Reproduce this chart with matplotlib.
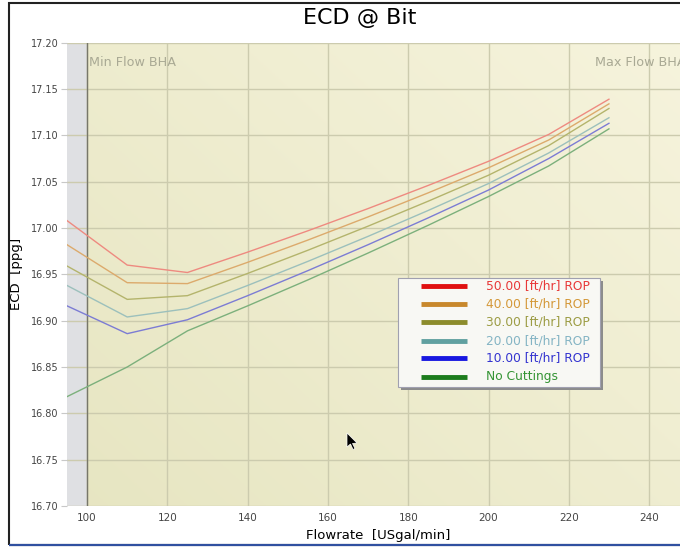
import numpy as np
import matplotlib
matplotlib.use("Agg")
import matplotlib.pyplot as plt
from matplotlib.patches import Rectangle, Polygon

# flowrate points [USgal/min]
flow = [95, 110, 125, 140, 155, 170, 185, 200, 215, 230]

# ECD [ppg] per ROP case
ecd_50 = [17.008, 16.960, 16.952, 16.974, 16.997, 17.021, 17.046, 17.072, 17.101, 17.139]
ecd_40 = [16.982, 16.941, 16.940, 16.963, 16.987, 17.012, 17.038, 17.065, 17.095, 17.134]
ecd_30 = [16.959, 16.923, 16.927, 16.951, 16.976, 17.002, 17.029, 17.057, 17.089, 17.129]
ecd_20 = [16.938, 16.904, 16.913, 16.938, 16.964, 16.991, 17.019, 17.048, 17.081, 17.119]
ecd_10 = [16.916, 16.886, 16.901, 16.927, 16.954, 16.982, 17.011, 17.041, 17.075, 17.113]
ecd_0 = [16.818, 16.850, 16.889, 16.916, 16.944, 16.973, 17.003, 17.034, 17.067, 17.107]

labels = ["50.00 [ft/hr] ROP", "40.00 [ft/hr] ROP", "30.00 [ft/hr] ROP",
          "20.00 [ft/hr] ROP", "10.00 [ft/hr] ROP", "No Cuttings"]
x_ticks = [100, 120, 140, 160, 180, 200, 220, 240]
y_ticks = [16.70, 16.75, 16.80, 16.85, 16.90, 16.95, 17.00, 17.05, 17.10, 17.15, 17.20]
min_flow = 100

series = [ecd_50, ecd_40, ecd_30, ecd_20, ecd_10, ecd_0]
line_colors = ["#ee8a80", "#dcaa6c", "#b4b46c", "#9cc0bc", "#7c7cd4", "#7cb07c"]
key_colors = ["#e01010", "#c8882c", "#8c8c2c", "#60a0a0", "#1818e0", "#1c7c1c"]
text_colors = ["#e83838", "#d49838", "#9c9c44", "#84b4c4", "#3434d0", "#349434"]

W, H = 680, 548
fig = plt.figure(figsize=(W / 100, H / 100), dpi=100)
ax_l, ax_t, ax_b = 67, 42.7, 506
ax = fig.add_axes([ax_l / W, 1 - ax_b / H, 1 - ax_l / W, (ax_b - ax_t) / H])


def px(x, y):
    # screen pixel -> axes fraction, only used for the legend box and pointer
    return (x - ax_l) / (W - ax_l), (ax_b - y) / (ax_b - ax_t)


# gradient background (lighter towards the upper right)
gx, gy = np.meshgrid(np.linspace(0, 1, 200), np.linspace(0, 1, 200))
t = np.clip(0.55 * gx + 0.45 * gy, 0, 1)[..., None]
dark = np.array([0.905, 0.90, 0.76])
light = np.array([0.965, 0.955, 0.865])
bg = dark + (light - dark) * t
ax.imshow(bg, extent=[0, 1, 0, 1], transform=ax.transAxes, origin="lower",
          aspect="auto", zorder=0)

ax.set_xlim(95, 247.7)
ax.set_ylim(16.70, 17.20)

# below min flow region
ax.axvspan(95, min_flow, color="#dfe0e3", zorder=1, lw=0)

for v in x_ticks:
    ax.axvline(v, color="#cccbae", lw=1, zorder=1)
for v in y_ticks:
    ax.axhline(v, color="#cccbae", lw=1, zorder=1)
ax.axvline(min_flow, color="#77776a", lw=1, zorder=2)

ax.text(100.4, 17.186, "Min Flow BHA", color="#a9a994", fontsize=9.2,
        va="top", ha="left", zorder=3)
ax.text(226.6, 17.186, "Max Flow BHA", color="#a9a994", fontsize=9.2,
        va="top", ha="left", zorder=3, clip_on=True)

for ys, c in zip(series, line_colors):
    ax.plot(flow, ys, color=c, lw=1, zorder=4)

for s in ax.spines.values():
    s.set_visible(False)
ax.set_xticks(x_ticks)
ax.set_yticks(y_ticks)
ax.set_yticklabels([f"{v:.2f}" for v in y_ticks])
ax.tick_params(axis="y", length=4, color="#c8c8c8", labelsize=7, labelcolor="#444444", pad=2)
ax.tick_params(axis="x", length=0, labelsize=7.5, labelcolor="#444444", pad=5)

ax.set_xlabel("Flowrate  [USgal/min]", fontsize=9.5)
ax.set_ylabel("ECD  [ppg]", fontsize=9.5)
ax.xaxis.set_label_coords((378.5 - ax_l) / (W - ax_l), -(529 - ax_b) / (ax_b - ax_t))
ax.yaxis.set_label_coords((23 - ax_l) / (W - ax_l), 0.5)

fig.text(360 / W, 1 - 18.5 / H, "ECD @ Bit", fontsize=16, ha="center", va="center")

# legend box, drawn by hand to match the original spacing
x0, y0 = px(398, 387)
x1, y1 = px(600, 278)
sx, sy = 3 / (W - ax_l), 3 / (ax_b - ax_t)
ax.add_patch(Rectangle((x0 + sx, y0 - sy), x1 - x0, y1 - y0, transform=ax.transAxes,
                       facecolor="#8c8c8c", edgecolor="none", zorder=6))
ax.add_patch(Rectangle((x0, y0), x1 - x0, y1 - y0, transform=ax.transAxes,
                       facecolor="#f8f8f4", edgecolor="#a0a0b0", lw=0.8, zorder=7))
row_y = [286, 304.3, 322.3, 340.7, 358.3, 376.7]
for ry, lab, kc, tc in zip(row_y, labels, key_colors, text_colors):
    ha0, hy = px(421, ry)
    ha1, _ = px(467, ry)
    ax.plot([ha0, ha1], [hy, hy], color=kc, lw=3.5, transform=ax.transAxes,
            solid_capstyle="butt", zorder=8)
    tx, ty = px(486, ry)
    ax.text(tx, ty, lab, color=tc, fontsize=8.8, va="center", ha="left",
            transform=ax.transAxes, zorder=8)

# mouse pointer left in the screenshot
cursor = [(347, 433), (347, 447), (350.5, 444), (353, 449.5), (355, 448.5),
          (352.5, 443.5), (357, 443)]
ax.add_patch(Polygon([px(a, b) for a, b in cursor], closed=True, transform=ax.transAxes,
                     facecolor="black", edgecolor="white", lw=0.5, zorder=9))

# screenshot frame
fig.patches.append(Rectangle((9 / W, 3 / H), 1.0, 1 - 6 / H,
                             transform=fig.transFigure, fill=False,
                             edgecolor="#222222", lw=1.5))
fig.patches.append(Rectangle((9 / W, 3 / H), 1.0, 0.0,
                             transform=fig.transFigure, fill=False,
                             edgecolor="#3050a0", lw=1.5))

fig.savefig("out.png", dpi=100)
